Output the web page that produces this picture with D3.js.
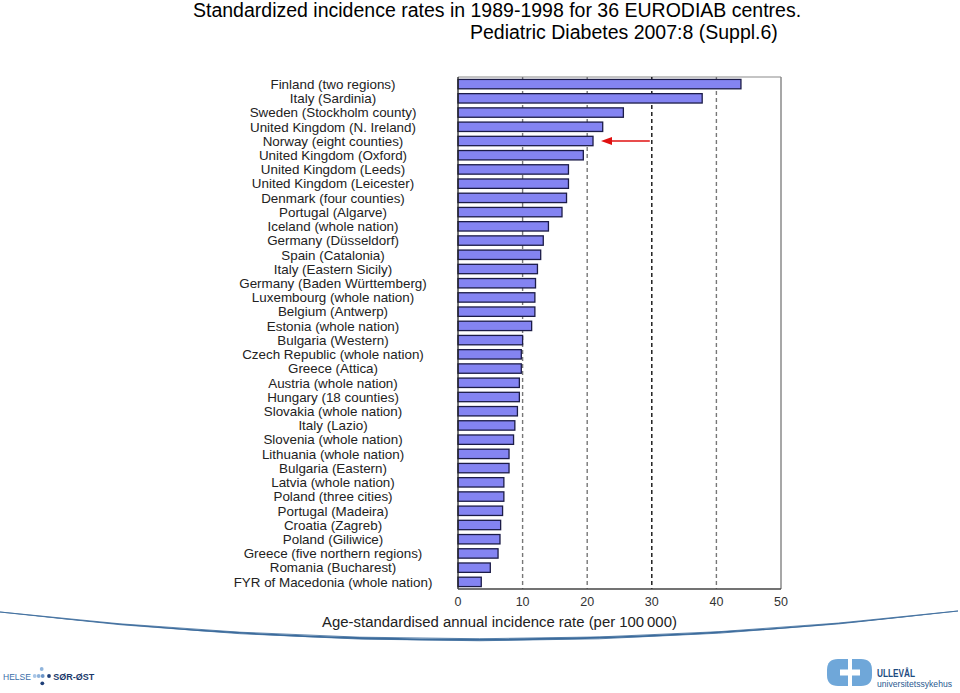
<!DOCTYPE html>
<html><head><meta charset="utf-8">
<script src="https://cdn.jsdelivr.net/npm/d3@7"></script>
<style>body{margin:0;background:#fff}svg{display:block}text{font-family:"Liberation Sans",Arial,sans-serif}</style>
</head><body>
<svg id="c" width="960" height="693"></svg>
<script>
const centres = ["Finland (two regions)","Italy (Sardinia)","Sweden (Stockholm county)","United Kingdom (N. Ireland)","Norway (eight counties)","United Kingdom (Oxford)","United Kingdom (Leeds)","United Kingdom (Leicester)","Denmark (four counties)","Portugal (Algarve)","Iceland (whole nation)","Germany (Düsseldorf)","Spain (Catalonia)","Italy (Eastern Sicily)","Germany (Baden Württemberg)","Luxembourg (whole nation)","Belgium (Antwerp)","Estonia (whole nation)","Bulgaria (Western)","Czech Republic (whole nation)","Greece (Attica)","Austria (whole nation)","Hungary (18 counties)","Slovakia (whole nation)","Italy (Lazio)","Slovenia (whole nation)","Lithuania (whole nation)","Bulgaria (Eastern)","Latvia (whole nation)","Poland (three cities)","Portugal (Madeira)","Croatia (Zagreb)","Poland (Giliwice)","Greece (five northern regions)","Romania (Bucharest)","FYR of Macedonia (whole nation)"];
const rates = [43.8,37.8,25.6,22.4,20.9,19.4,17.1,17.1,16.8,16.1,14.0,13.2,12.8,12.3,12.0,11.9,11.9,11.4,10.0,9.8,9.8,9.5,9.5,9.2,8.8,8.6,7.9,7.9,7.1,7.1,6.9,6.6,6.5,6.2,5.0,3.6];
const xTicks = [0,10,20,30,40,50];
const gridValues = [10,20,30,40];
const highlighted = "Norway (eight counties)";
const titleLines = ["Standardized incidence rates in 1989-1998 for 36 EURODIAB centres.","Pediatric Diabetes 2007:8 (Suppl.6)"];
const xTitle = "Age-standardised annual incidence rate (per 100\u2009000)";

const svg = d3.select("#c");
const L = 458, R = 781, T = 77, B = 589;
const x = d3.scaleLinear().domain([0,50]).range([L,R]);
const y = d3.scaleBand().domain(centres).range([T,B]).paddingInner(0.34).paddingOuter(0.17);

// title
svg.append("text").attr("x",193).attr("y",17).attr("font-size",19.5).attr("fill","#000").text(titleLines[0]);
svg.append("text").attr("x",470).attr("y",38.5).attr("font-size",19.5).attr("fill","#000").text(titleLines[1]);

// frame
svg.append("line").attr("x1",L).attr("x2",R).attr("y1",T).attr("y2",T).attr("stroke","#8a8a8a").attr("stroke-width",1.2);
svg.append("line").attr("x1",R).attr("x2",R).attr("y1",T).attr("y2",B).attr("stroke","#8a8a8a").attr("stroke-width",1.5);

// gridlines
svg.selectAll(".grid").data(gridValues).join("line")
  .attr("x1",d=>x(d)).attr("x2",d=>x(d)).attr("y1",T).attr("y2",B)
  .attr("stroke",d=>d===30?"#111":"#777").attr("stroke-width",1.4).attr("stroke-dasharray","4,3");

// bars
svg.selectAll(".bar").data(centres).join("rect")
  .attr("x",x(0)).attr("y",d=>y(d)).attr("height",y.bandwidth())
  .attr("width",(d,i)=>x(rates[i])-x(0))
  .attr("fill","#8484f2").attr("stroke","#1c1c48").attr("stroke-width",1.3);

// axes lines
svg.append("line").attr("x1",L).attr("x2",L).attr("y1",T).attr("y2",B).attr("stroke","#222").attr("stroke-width",1.3);
svg.append("line").attr("x1",L).attr("x2",R).attr("y1",B).attr("y2",B).attr("stroke","#444").attr("stroke-width",1.3);

// category labels
svg.selectAll(".lab").data(centres).join("text")
  .attr("x",333).attr("y",d=>y(d)+y.bandwidth()/2).attr("dy","0.36em")
  .attr("text-anchor","middle").attr("font-size",13.4).attr("fill","#222").text(d=>d);

// x tick labels
svg.selectAll(".tk").data(xTicks).join("text")
  .attr("x",d=>x(d)).attr("y",606).attr("text-anchor","middle").attr("font-size",12.5).attr("fill","#333").text(d=>d);
svg.append("text").attr("x",499.5).attr("y",627).attr("text-anchor","middle").attr("font-size",14.9).attr("fill","#222").text(xTitle);

// red arrow to highlighted centre
const idx = centres.indexOf(highlighted);
const ay = y(highlighted)+y.bandwidth()/2;
const tipX = x(rates[idx])+8;
svg.append("line").attr("x1",x(30)-2).attr("x2",tipX+8).attr("y1",ay).attr("y2",ay).attr("stroke","#e01010").attr("stroke-width",1.5);
svg.append("path").attr("d",`M${tipX},${ay} L${tipX+11},${ay-4} L${tipX+11},${ay+4} Z`).attr("fill","#e01010");

// swoosh
svg.append("path").attr("d","M0,612 Q480,670 958,611 Q480,666 0,612 Z").attr("fill","#3b6b9c").attr("stroke","#3b6b9c").attr("stroke-width",0.8);

// Helse Sør-Øst logo
svg.append("text").attr("x",3).attr("y",679.5).attr("font-size",8.5).attr("fill","#3a6ea8").text("HELSE");
const dots = [[41.7,669,"#8fb4dc"],[34.7,676,"#a9c6e6"],[38.7,676,"#8fb4dc"],[42.7,676,"#6b95c8"],[49,676,"#1f3f78"],[42.3,683.3,"#1f3f78"]];
svg.selectAll(".dot").data(dots).join("circle").attr("cx",d=>d[0]).attr("cy",d=>d[1]).attr("r",1.9).attr("fill",d=>d[2]);
svg.append("text").attr("x",53.3).attr("y",679.5).attr("font-size",9).attr("font-weight","bold").attr("fill","#1b3a6b").text("SØR-ØST");

// Ullevål logo
const lb = "#6fa7d9";
svg.append("path").attr("d","M848,659 L838,659 Q827,659 827,670 L827,675 Q827,686 838,686 L848,686 Z").attr("fill",lb);
svg.append("path").attr("d","M852,659 L861,659 Q872,659 872,670 L872,675 Q872,686 861,686 L852,686 Z").attr("fill",lb);
svg.append("rect").attr("x",840).attr("y",669.5).attr("width",20).attr("height",6).attr("fill","#fff");
svg.append("text").attr("x",877).attr("y",677).attr("font-size",11.5).attr("font-weight","bold").attr("fill","#1e4b80")
  .style("font-family","'Liberation Sans Narrow','Liberation Sans',sans-serif").attr("textLength",38).attr("lengthAdjust","spacingAndGlyphs").text("ULLEVÅL");
svg.append("text").attr("x",877).attr("y",686.5).attr("font-size",9.5).attr("fill","#2a5a90")
  .style("font-family","'Liberation Sans Narrow','Liberation Sans',sans-serif").attr("textLength",75).attr("lengthAdjust","spacingAndGlyphs").text("universitetssykehus");
</script>
</body></html>
